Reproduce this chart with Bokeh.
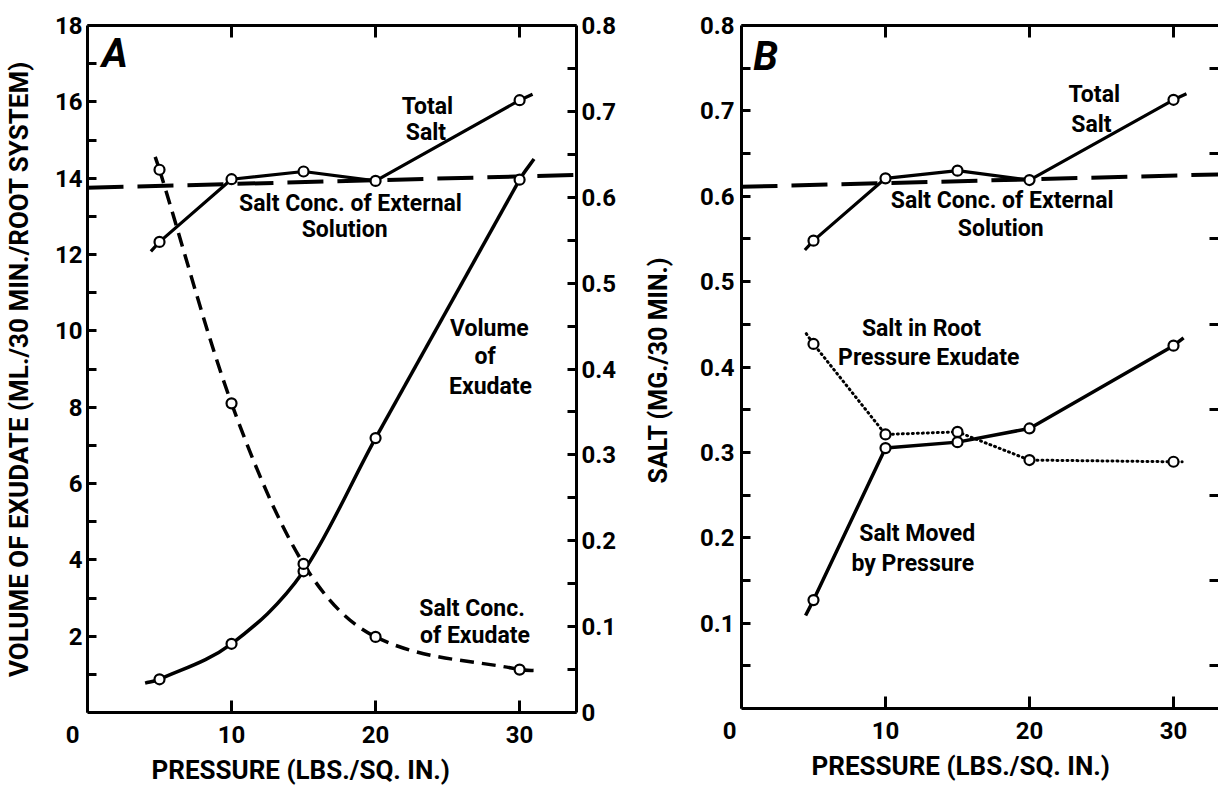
from bokeh.plotting import figure
from bokeh.models import Range1d, LinearAxis, FixedTicker, Title
from bokeh.layouts import row
from bokeh.embed import file_html
from bokeh.resources import INLINE
from bokeh.core.properties import value

# ---------------- data ----------------
pressure = [5, 10, 15, 20, 30]

# Panel A
volume_exudate = [0.87, 1.80, 3.70, 7.19, 13.96]          # ml / 30 min / root system
volume_ends_x = [4.0, 31.0]
volume_ends_y = [0.77, 14.5]
salt_conc_exudate = [0.632, 0.360, 0.173, 0.088, 0.050]   # right axis
salt_conc_ends_x = [4.7, 31.4]
salt_conc_ends_y = [0.647, 0.049]

# shared by A and B (mg / 30 min)
total_salt = [0.548, 0.621, 0.630, 0.619, 0.713]
total_salt_ends_x = [4.4, 30.9]
total_salt_ends_y = [0.537, 0.720]
external_x = [0, 34]
external_salt = [0.611, 0.626]

# Panel B
salt_root_exudate = [0.427, 0.321, 0.324, 0.291, 0.289]
salt_root_ends_x = [4.5, 30.6]
salt_root_ends_y = [0.439, 0.289]
salt_moved = [0.127, 0.305, 0.312, 0.328, 0.425]
salt_moved_ends_x = [4.45, 30.7]
salt_moved_ends_y = [0.109, 0.434]

# ticks
x_ticks = [0, 10, 20, 30]
x_top_ticks = [10, 20, 30]
vol_ticks = [2, 4, 6, 8, 10, 12, 14, 16, 18]
vol_minor = [1, 3, 5, 7, 9, 11, 13, 15, 17]
salt_ticks_A = [0, 0.1, 0.2, 0.3, 0.4, 0.5, 0.6, 0.7, 0.8]
salt_ticks_B = [0.1, 0.2, 0.3, 0.4, 0.5, 0.6, 0.7, 0.8]
salt_minor = [0.05, 0.15, 0.25, 0.35, 0.45, 0.55, 0.65, 0.75]

X_TITLE = "PRESSURE (LBS./SQ. IN.)"
NBSP = "\u00a0"

FONT = "Roboto"
TICK_SIZE = "24px"
XLABEL_SIZE = "26px"
YLABEL_SIZE = "26px"
ANN_SIZE = "23px"


def with_ends(ends, vals):
    return [ends[0]] + list(vals) + [ends[1]]


def hermite_segments(xs, ys):
    n = len(xs)
    m = []
    for i in range(n):
        if i == 0:
            m.append((ys[1] - ys[0]) / (xs[1] - xs[0]))
        elif i == n - 1:
            m.append((ys[-1] - ys[-2]) / (xs[-1] - xs[-2]))
        else:
            m.append((ys[i + 1] - ys[i - 1]) / (xs[i + 1] - xs[i - 1]))
    seg = {k: [] for k in ("x0", "y0", "x1", "y1", "cx0", "cy0", "cx1", "cy1")}
    for i in range(n - 1):
        h = xs[i + 1] - xs[i]
        seg["x0"].append(xs[i]); seg["y0"].append(ys[i])
        seg["x1"].append(xs[i + 1]); seg["y1"].append(ys[i + 1])
        seg["cx0"].append(xs[i] + h / 3); seg["cy0"].append(ys[i] + m[i] * h / 3)
        seg["cx1"].append(xs[i + 1] - h / 3); seg["cy1"].append(ys[i + 1] - m[i + 1] * h / 3)
    return seg


def style_axis(ax, label_size=TICK_SIZE, show_labels=True):
    ax.axis_line_width = 3
    ax.axis_line_color = "black"
    ax.major_tick_line_width = 3
    ax.minor_tick_line_width = 3
    ax.major_tick_in = 9
    ax.major_tick_out = 0
    ax.minor_tick_in = 9
    ax.minor_tick_out = 0
    ax.major_label_text_font = FONT
    ax.major_label_text_font_style = "bold"
    ax.major_label_text_color = "black"
    ax.axis_label_text_font = FONT
    ax.axis_label_text_font_style = "bold"
    ax.axis_label_text_color = "black"
    if show_labels:
        ax.major_label_text_font_size = label_size
    else:
        ax.major_label_text_font_size = "1px"
        ax.major_label_text_alpha = 0
        ax.major_label_standoff = 0


def text_kw(size):
    return dict(text_font=value(FONT), text_font_style="bold", text_font_size=size,
                text_align="center", text_baseline="middle", text_color="black")


def add_x_axes(p, title_offset, zero_pad):
    bx = LinearAxis(ticker=FixedTicker(ticks=x_ticks, minor_ticks=[]))
    style_axis(bx)
    bx.major_tick_in = 12
    bx.major_label_standoff = 8
    bx.major_label_overrides = {0: "0" + NBSP * zero_pad}
    p.add_layout(bx, "below")
    tx = LinearAxis(ticker=FixedTicker(ticks=x_top_ticks, minor_ticks=[]))
    style_axis(tx, show_labels=False)
    tx.major_tick_in = 12
    p.add_layout(tx, "above")
    p.add_layout(Title(text=X_TITLE, align="left", offset=title_offset, standoff=2,
                       text_font=FONT, text_font_style="bold", text_font_size=XLABEL_SIZE,
                       text_color="black"), "below")


# ---------------- Panel A ----------------
pA = figure(frame_width=489, frame_height=687, min_border_left=86, min_border_right=50,
            min_border_top=21, min_border_bottom=80,
            x_range=Range1d(0, 33.95), y_range=Range1d(0, 18),
            x_axis_location=None, y_axis_location=None,
            output_backend="svg", toolbar_location=None)
pA.extra_y_ranges = {"salt": Range1d(0, 0.8)}
pA.grid.visible = False
pA.outline_line_color = None
pA.background_fill_color = "white"
pA.border_fill_color = "white"

add_x_axes(pA, 64, 5)
lyA = LinearAxis(ticker=FixedTicker(ticks=vol_ticks, minor_ticks=vol_minor),
                 axis_label="VOLUME OF EXUDATE (ML./30 MIN./ROOT SYSTEM)")
style_axis(lyA)
lyA.major_label_standoff = 5
lyA.axis_label_standoff = 18
lyA.axis_label_text_font_size = YLABEL_SIZE
pA.add_layout(lyA, "left")
ryA = LinearAxis(y_range_name="salt", ticker=FixedTicker(ticks=salt_ticks_A, minor_ticks=salt_minor))
style_axis(ryA)
ryA.major_label_standoff = 5
ryA.major_label_overrides = {0: "0"}
pA.add_layout(ryA, "right")

# external solution (long dashes)
pA.line(external_x, external_salt, y_range_name="salt", line_color="black",
        line_width=4, line_dash="36 14")
# total salt
pA.line(with_ends(total_salt_ends_x, pressure), with_ends(total_salt_ends_y, total_salt),
        y_range_name="salt", line_color="black", line_width=3.2)
# volume of exudate (smooth solid)
segV = hermite_segments(with_ends(volume_ends_x, pressure), with_ends(volume_ends_y, volume_exudate))
pA.bezier(**segV, line_color="black", line_width=3.5)
# salt conc of exudate (smooth dashed)
segC = hermite_segments(with_ends(salt_conc_ends_x, pressure), with_ends(salt_conc_ends_y, salt_conc_exudate))
pA.bezier(**segC, y_range_name="salt", line_color="black", line_width=3.5, line_dash="14 8")

mk = dict(marker="circle", size=10, fill_color="white", line_color="black", line_width=2.2)
pA.scatter(pressure, total_salt, y_range_name="salt", **mk)
pA.scatter(pressure, volume_exudate, **mk)
pA.scatter(pressure, salt_conc_exudate, y_range_name="salt", **mk)

annA_x = [23.6, 23.5, 18.26, 17.85, 27.9, 27.6, 27.98, 26.7, 26.9]
annA_y = [15.88, 15.20, 13.34, 12.65, 10.06, 9.33, 8.54, 2.72, 2.02]
annA_t = ["Total", "Salt", "Salt Conc. of External", "Solution", "Volume", "of", "Exudate",
          "Salt Conc.", "of Exudate"]
pA.text(annA_x, annA_y, annA_t, **text_kw(ANN_SIZE))
pA.text([1.9], [17.27], ["A"], text_font=value(FONT), text_font_style="bold italic",
        text_font_size="40px", text_align="center", text_baseline="middle", text_color="black")

# ---------------- Panel B ----------------
pB = figure(frame_width=478, frame_height=683, min_border_left=115, min_border_right=0,
            min_border_top=25, min_border_bottom=80,
            x_range=Range1d(0, 478 / 14.4), y_range=Range1d(0, 0.8),
            x_axis_location=None, y_axis_location=None,
            output_backend="svg", toolbar_location=None)
pB.grid.visible = False
pB.outline_line_color = None
pB.background_fill_color = "white"
pB.border_fill_color = "white"

add_x_axes(pB, 70, 4)
lyB = LinearAxis(ticker=FixedTicker(ticks=salt_ticks_B, minor_ticks=salt_minor),
                 axis_label="SALT  (MG./30 MIN.)")
style_axis(lyB)
lyB.major_label_standoff = 7
lyB.axis_label_standoff = 24
lyB.axis_label_text_font_size = "25px"
pB.add_layout(lyB, "left")
ryB = LinearAxis(ticker=FixedTicker(ticks=[], minor_ticks=salt_minor))
style_axis(ryB, show_labels=False)
ryB.minor_tick_in = 10
ryB.axis_line_color = None
pB.add_layout(ryB, "right")

pB.line(external_x, external_salt, line_color="black", line_width=4, line_dash="36 14")
pB.line(with_ends(total_salt_ends_x, pressure), with_ends(total_salt_ends_y, total_salt),
        line_color="black", line_width=3.2)
pB.line(with_ends(salt_root_ends_x, pressure), with_ends(salt_root_ends_y, salt_root_exudate),
        line_color="black", line_width=3, line_dash="1 4", line_cap="round")
pB.line(with_ends(salt_moved_ends_x, pressure), with_ends(salt_moved_ends_y, salt_moved),
        line_color="black", line_width=3.5)
pB.scatter(pressure, total_salt, **mk)
pB.scatter(pressure, salt_root_exudate, **mk)
pB.scatter(pressure, salt_moved, **mk)

annB_x = [24.5, 24.3, 18.3, 18.0, 12.5, 13.0, 12.2, 11.9]
annB_y = [0.719, 0.684, 0.595, 0.562, 0.445, 0.411, 0.205, 0.170]
annB_t = ["Total", "Salt", "Salt  Conc. of External", "Solution", "Salt in Root",
          "Pressure Exudate", "Salt Moved", "by Pressure"]
pB.text(annB_x, annB_y, annB_t, **text_kw(ANN_SIZE))
pB.text([1.67], [0.764], ["B"], text_font=value(FONT), text_font_style="bold italic",
        text_font_size="40px", text_align="center", text_baseline="middle", text_color="black")

layout = row(pA, pB)
open("out.html", "w").write(file_html(layout, INLINE))
